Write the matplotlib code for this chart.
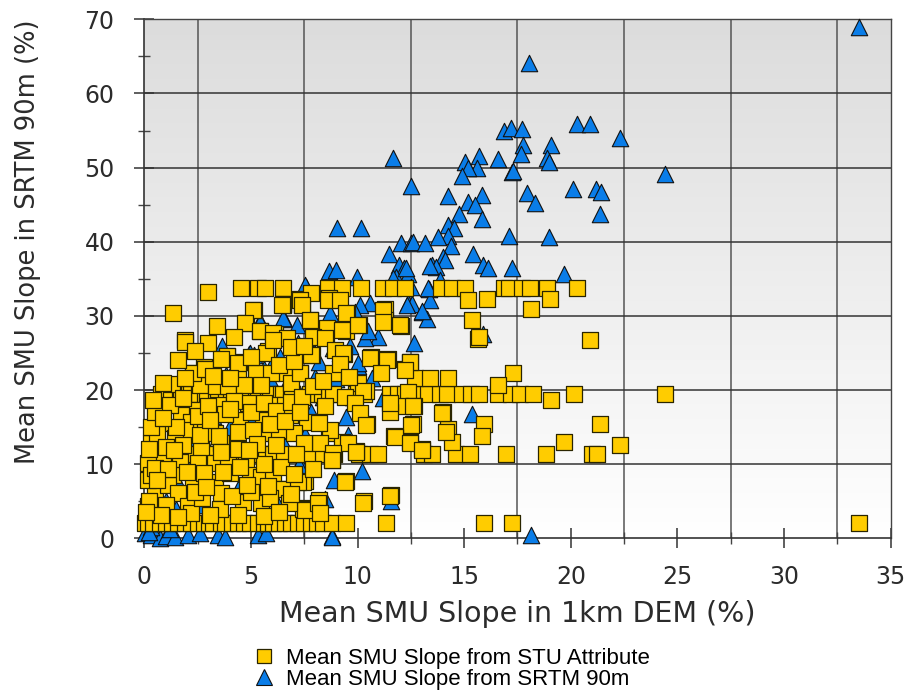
import numpy as np
import matplotlib
matplotlib.use("Agg")
import matplotlib.pyplot as plt
from matplotlib.lines import Line2D
from matplotlib.colors import LinearSegmentedColormap

# Mean SMU slope from SRTM 90m (triangles)
tri_pts = [
    (33.5, 68.9), (18.05, 64.1), (16.86, 55.0), (17.18, 55.3), (17.71, 55.25), (20.29, 55.9), (20.88, 55.9),
    (22.29, 54.05), (17.76, 53.1), (19.09, 53.1), (17.66, 51.9), (18.9, 51.3), (19.0, 50.8), (11.64, 51.3),
    (15.04, 50.7), (15.71, 51.6), (15.6, 50.0), (16.6, 51.2), (15.2, 50.0), (17.23, 49.4), (17.3, 49.5),
    (14.9, 48.9), (24.4, 49.1), (12.49, 47.5), (20.1, 47.1), (21.2, 47.1), (21.4, 46.7), (14.26, 46.2),
    (15.85, 46.3), (15.18, 45.3), (15.5, 44.9), (17.96, 46.6), (18.3, 45.2), (14.77, 43.7), (15.82, 43.0),
    (21.39, 43.7), (9.06, 41.8), (10.14, 41.9), (14.26, 42.2), (14.54, 41.8), (14.24, 40.8), (14.38, 39.4),
    (17.1, 40.8), (19.0, 40.7), (12.03, 39.8), (12.49, 39.8), (12.6, 39.9), (13.18, 39.8), (13.78, 40.6),
    (11.48, 38.4), (14.03, 38.0), (14.1, 37.6), (15.41, 38.3), (15.87, 36.9), (16.1, 36.4), (17.23, 36.4),
    (19.7, 35.7), (11.94, 36.8), (12.2, 36.4), (12.35, 35.6), (11.8, 35.3), (13.48, 36.8), (13.69, 36.6),
    (8.67, 36.1), (8.97, 36.2), (9.96, 35.3), (13.85, 34.8), (13.36, 33.6), (7.59, 33.9), (13.41, 32.2),
    (12.35, 31.7), (12.55, 31.6), (13.04, 30.5), (13.27, 29.6), (10.6, 31.7), (10.1, 31.5), (9.87, 30.5),
    (6.53, 29.6), (7.18, 28.8), (5.45, 29.3), (10.95, 27.2), (10.35, 27.0), (12.63, 26.3), (15.9, 27.6),
    (3.66, 25.9), (4.92, 24.8), (5.15, 24.7), (10.0, 23.3), (15.36, 16.8), (10.21, 9.1), (8.9, 7.8),
    (7.29, 10.1), (11.55, 5.05), (8.46, 5.3), (6.21, 4.8), (18.15, 0.5), (8.79, 0.3),
    (12.27, 36.5), (13.39, 36.7), (11.67, 35.1), (12.53, 33.96), (13.3, 33.7), (12.3, 31.5), (13.0, 30.6),
    (7.53, 34.2), (6.51, 29.7), (6.83, 24.5), (7.22, 26.3), (7.69, 26.8), (8.23, 27.7), (8.7, 30.4),
    (9.48, 29.7), (9.64, 25.9), (10.5, 27.9), (9.17, 25.0), (8.0, 21.8), (10.66, 21.6), (11.2, 18.9),
    (9.48, 16.4), (7.53, 13.9), (9.56, 13.9), (4.95, 25.0), (7.92, 25.0), (8.86, 25.6), (10.03, 23.6),
    (7.26, 9.9), (3.84, 22.0), (6.03, 23.8), (5.0, 16.4), (6.27, 16.0), (4.39, 6.7), (5.42, 29.2), (6.36, 24.5),
    (0.03, 0.7), (0.3, 0.4), (0.74, 0.0), (1.0, 0.3), (1.44, 0.2), (2.06, 0.45), (2.61, 0.7), (3.47, 0.45),
    (3.78, 0.2), (5.34, 0.45), (5.73, 0.7), (8.78, 0.2),
    (0.3, 1.5), (0.5, 3.0), (1.0, 5.0), (1.5, 8.0), (2.0, 10.0), (3.0, 12.0), (4.0, 15.0), (4.5, 13.0),
    (2.5, 18.0), (3.5, 20.0), (5.0, 18.0), (5.5, 20.5), (6.0, 21.0), (4.0, 10.0), (1.5, 4.0), (3.92, 18.2),
    (5.0, 16.8), (2.2, 13.5), (3.2, 16.5), (4.8, 20.2), (5.8, 18.8), (6.5, 19.8), (7.0, 21.0), (4.2, 23.0),
    (5.6, 22.8), (2.8, 21.5), (6.6, 12.5), (7.8, 17.0), (8.4, 19.0), (9.0, 21.5), (8.2, 23.8), (9.8, 19.0),
    (6.4, 14.8), (0.8, 2.0), (1.2, 1.2), (0.2, 0.9), (2.6, 4.5), (3.6, 6.5), (5.2, 8.0), (5.9, 11.0),
]
tri_x = [p[0] for p in tri_pts]
tri_y = [p[1] for p in tri_pts]

# Mean SMU slope from STU attribute (squares) - class rows
row34_x = [4.53, 5.34, 5.64, 6.49, 8.6, 9.29, 10.17, 11.2, 11.66, 12.24, 13.89, 14.42, 15.02,
           16.86, 17.11, 17.71, 18.1, 18.9, 20.29]
row19_x = [0.8, 1.1, 1.27, 1.66, 1.74, 2.12, 2.2, 2.58, 2.83, 2.92, 3.38, 3.45, 3.84, 4.08, 4.42, 4.7,
           4.76, 5.25, 5.34, 5.8, 5.91, 6.42, 6.49, 6.89, 6.95, 7.75, 8.16, 8.33, 8.67, 8.86, 9.94, 10.28,
           11.51, 11.9, 12.24, 12.58, 13.31, 13.86, 14.19, 14.88, 15.3, 15.69, 16.6, 17.18, 17.64, 18.22,
           20.13, 24.4]
row11_x = [0.33, 0.6, 0.85, 1.27, 1.43, 1.74, 1.89, 2.2, 2.35, 2.67, 2.92, 3.14, 3.27, 3.77, 4.23, 4.7,
           4.88, 5.25, 5.52, 5.72, 6.03, 6.53, 7.14, 7.77, 8.39, 8.9, 10.05, 10.58, 10.97, 13.1, 13.5,
           14.6, 15.25, 16.95, 18.85, 20.97, 21.25]
row2_x = [0.02, 0.16, 0.41, 0.74, 1.0, 1.31, 1.6, 1.89, 2.2, 2.52, 2.8, 3.04, 3.22, 3.61, 3.77, 4.1,
          4.39, 4.7, 4.94, 5.34, 5.6, 5.8, 6.03, 6.3, 6.58, 6.9, 7.22, 7.5, 7.84, 8.1, 8.39, 8.78,
          9.48, 11.32, 15.92, 17.23, 33.53]
row34_y, row19_y, row11_y, row2_y = 33.7, 19.45, 11.4, 2.05

# other squares (mixed-class averages)
sq_pts = [
    (2.97, 33.2), (1.36, 30.4), (1.93, 26.7), (5.15, 30.8), (6.49, 31.6), (7.41, 31.5), (7.29, 32.3),
    (7.75, 29.5), (8.67, 32.4), (9.52, 30.4), (11.27, 30.9), (11.27, 29.4), (12.03, 28.7), (15.16, 32.2),
    (16.08, 32.3), (19.02, 32.3), (18.15, 30.9), (15.36, 29.4), (15.64, 26.9), (15.69, 27.1), (20.88, 26.7),
    (4.76, 29.1), (5.45, 28.0), (6.14, 27.6), (8.51, 27.1), (9.48, 28.0), (10.05, 28.8), (3.89, 24.6),
    (4.42, 23.8), (5.8, 25.2), (7.87, 24.7), (9.36, 24.8), (10.63, 24.5), (11.43, 24.2), (12.47, 23.8),
    (12.24, 22.8), (2.28, 22.3), (2.81, 23.1), (5.34, 22.3), (6.6, 22.3), (12.7, 21.6), (13.39, 21.6),
    (14.26, 21.6), (17.3, 22.3), (16.6, 20.7), (19.09, 18.6), (12.35, 19.7), (10.4, 19.9), (12.01, 17.8),
    (12.63, 17.8), (11.5, 17.1), (14.03, 17.1), (10.44, 15.4), (12.58, 15.4), (15.92, 15.4), (14.26, 14.7),
    (15.85, 13.8), (11.73, 13.8), (12.47, 13.0), (13.04, 12.1), (14.42, 13.0), (19.7, 13.0), (21.39, 15.4),
    (22.29, 12.6), (9.48, 7.7), (7.52, 7.7), (10.28, 5.0), (11.55, 5.8), (7.52, 4.1), (8.21, 5.1),
    (8.79, 10.6), (9.94, 11.8), (8.67, 14.2), (9.25, 13.0),
    (2.83, 22.9), (4.39, 23.6), (5.25, 22.3), (5.95, 22.3), (7.28, 22.3), (4.39, 21.6), (2.6, 20.7),
    (3.38, 20.5), (3.92, 20.5), (4.7, 20.7), (5.48, 20.7), (6.89, 20.9), (3.45, 18.0), (2.36, 17.3),
    (4.86, 18.2), (6.03, 18.0), (6.81, 16.6), (1.74, 16.6), (0.8, 15.5), (2.2, 15.7), (2.83, 15.1),
    (3.3, 14.2), (1.89, 14.6), (4.47, 16.0), (4.39, 14.4), (5.56, 16.0), (5.72, 14.2), (6.34, 14.6),
    (0.56, 13.0), (1.42, 13.5), (2.67, 12.1), (3.61, 12.8), (5.1, 14.6), (0.88, 10.6), (1.66, 10.3),
    (2.52, 10.1), (3.3, 10.1), (3.92, 10.3), (4.78, 10.3), (1.35, 8.5), (2.28, 7.6), (3.3, 7.6), (4.0, 8.8),
    (4.94, 8.5), (5.48, 8.3), (6.03, 8.3), (0.49, 6.3), (1.11, 7.2), (1.58, 6.1), (3.61, 6.1), (6.42, 6.7),
    (1.03, 4.5), (2.05, 4.3), (3.53, 4.0), (4.62, 4.9), (5.48, 4.7), (2.2, 3.4), (0.17, 4.3), (0.17, 7.9),
    (0.17, 10.1), (0.33, 12.8), (7.44, 4.0), (7.44, 7.6), (0.2, 5.0), (0.3, 8.5), (0.5, 9.5), (0.6, 14.0),
    (0.3, 15.0), (0.8, 3.2), (0.1, 3.5),
    (7.84, 33.1), (7.3, 32.2), (6.52, 31.5), (7.38, 31.5), (8.62, 32.2), (9.17, 32.2), (9.48, 30.4),
    (11.2, 30.8), (11.2, 29.2), (11.98, 28.8), (7.77, 29.5), (8.55, 28.3), (9.25, 28.1), (10.03, 28.8),
    (7.92, 27.2), (8.47, 27.0), (6.6, 27.0), (8.94, 25.4), (9.33, 25.0), (7.84, 24.7), (10.58, 24.3),
    (11.36, 24.1), (12.45, 23.8), (12.22, 22.7), (8.86, 22.3), (7.3, 22.3), (11.12, 22.3), (10.03, 20.9),
    (10.27, 19.8), (9.41, 19.1), (6.6, 18.0), (8.47, 17.8), (9.88, 18.2), (10.11, 16.9), (6.83, 16.6),
    (7.61, 15.7), (11.51, 18.2), (12.61, 17.8), (13.94, 16.9), (10.42, 15.3), (12.53, 15.3), (14.17, 14.4),
    (8.7, 14.6), (8.23, 12.9), (9.56, 12.8), (11.75, 13.7), (12.45, 12.8), (13.0, 11.9), (8.86, 11.5),
    (9.95, 11.7), (8.78, 10.5), (6.52, 6.7), (7.22, 7.65), (9.41, 7.65), (7.53, 3.8), (8.16, 4.7),
    (10.27, 4.7), (11.51, 5.7), (8.23, 3.4),
    (6.44, 31.5), (5.11, 30.8), (4.72, 29.0), (5.42, 27.9), (6.05, 27.7), (6.67, 27.0), (1.91, 26.5),
    (3.86, 24.6), (4.41, 23.6), (5.73, 25.0), (6.05, 26.8), (2.3, 22.3), (2.84, 22.9),
    # dense cluster near the origin
    (0.5, 17.0), (1.2, 18.0), (1.0, 12.3), (1.5, 15.0), (2.5, 16.5), (3.0, 17.8), (3.8, 16.8), (4.2, 18.5),
    (5.0, 17.0), (5.6, 18.3), (6.2, 17.2), (6.9, 18.4), (7.4, 19.0), (7.0, 14.2), (7.5, 12.8), (6.2, 12.6),
    (5.3, 12.7), (4.4, 12.0), (3.5, 13.8), (2.6, 13.9), (1.8, 12.6), (1.1, 9.3), (2.0, 8.9), (2.8, 8.8),
    (3.7, 9.0), (4.5, 9.6), (5.6, 10.0), (6.4, 9.6), (7.0, 8.7), (7.9, 9.4), (1.6, 2.9), (2.7, 5.5),
    (3.1, 3.2), (4.1, 5.7), (5.0, 6.3), (5.9, 5.5), (6.8, 4.7), (0.6, 7.8), (2.4, 6.2), (4.4, 3.1),
    (5.6, 3.0), (6.3, 3.6), (3.2, 21.9), (4.0, 21.6), (5.0, 24.4), (6.3, 23.4), (7.0, 23.9), (6.9, 25.8),
    (7.5, 26.0), (3.0, 26.3), (4.2, 27.1), (3.4, 28.6), (4.0, 17.4), (1.3, 20.8), (1.9, 21.6), (0.9, 21.0),
    (3.6, 24.2), (7.9, 20.6), (8.4, 21.2), (9.2, 23.5), (9.6, 21.8), (8.2, 15.5), (7.1, 11.4), (0.4, 18.6),
    (1.6, 24.0), (2.4, 25.3), (3.1, 15.9), (5.9, 15.4), (6.6, 15.8), (7.3, 17.1), (2.9, 6.9), (4.8, 7.2),
    (5.8, 7.0), (6.9, 6.0), (1.4, 11.9), (3.6, 11.6), (4.9, 11.9), (0.9, 16.2), (1.8, 18.9), (0.2, 12.0),
]

sq_x = row34_x + row19_x + row11_x + row2_x + [p[0] for p in sq_pts]
sq_y = ([row34_y] * len(row34_x) + [row19_y] * len(row19_x) + [row11_y] * len(row11_x)
        + [row2_y] * len(row2_x) + [p[1] for p in sq_pts])

SQ_COL = "#ffcc00"
TRI_COL = "#0a7de8"
TXT = "#2b2b2b"

fig = plt.figure(figsize=(9.09, 6.95), dpi=100)
ax = fig.add_axes([0.1587, 0.2255, 0.9799 - 0.1587, 0.9722 - 0.2255])

# grey-to-white background gradient
grad = np.linspace(0, 1, 256).reshape(-1, 1)
cmap = LinearSegmentedColormap.from_list("bg", ["#ffffff", "#dcdcdc"])
ax.imshow(grad, cmap=cmap, aspect="auto", extent=[0, 1, 0, 1], origin="lower",
          transform=ax.transAxes, zorder=0)

ax.scatter(tri_x, tri_y, marker="^", s=140, c=TRI_COL, edgecolors="#111111",
           linewidths=0.8, zorder=3, clip_on=False)
ax.scatter(sq_x, sq_y, marker="s", s=135, c=SQ_COL, edgecolors="#2a2500",
           linewidths=0.9, zorder=4, clip_on=False)

ax.set_xlim(0, 35)
ax.set_ylim(0, 70)
ax.set_xticks(np.arange(0, 36, 5))
ax.set_xticks(np.arange(2.5, 35, 5), minor=True)
ax.set_yticks(np.arange(0, 71, 10))
ax.set_yticks(np.arange(5, 70, 10), minor=True)

ax.grid(False)
for v in np.arange(2.5, 35, 5):
    ax.axvline(v, color="#555555", lw=1.1, zorder=1)
for h in np.arange(10, 70, 10):
    ax.axhline(h, color="#333333", lw=1.1, zorder=1)

for s in ["left", "bottom"]:
    ax.spines[s].set_color("#333333")
    ax.spines[s].set_linewidth(1.2)
for s in ["top", "right"]:
    ax.spines[s].set_color("#444444")
    ax.spines[s].set_linewidth(1.0)
for s in ax.spines.values():
    s.set_zorder(2)

ax.tick_params(axis="both", which="major", direction="inout", length=15, width=1.1,
               color="#333333", labelsize=17, labelcolor=TXT)
ax.tick_params(axis="both", which="minor", direction="inout", length=9, width=1.0, color="#444444")
ax.tick_params(axis="x", which="major", pad=12)
ax.tick_params(axis="y", which="major", pad=14)

ax.set_xlabel("Mean SMU Slope in 1km DEM (%)", fontsize=20.5, color=TXT, labelpad=8)
fig.text(28 / 909, 1 - 242 / 695, "Mean SMU Slope in SRTM 90m (%)", rotation=90,
         fontsize=18.5, color=TXT, ha="center", va="center")

handles = [
    Line2D([], [], ls="none", marker="s", ms=10.5, mfc=SQ_COL, mec="#2a2500", mew=0.9),
    Line2D([], [], ls="none", marker="^", ms=11, mfc=TRI_COL, mec="#111111", mew=0.8),
]
fig.legend(handles, ["Mean SMU Slope from STU Attribute", "Mean SMU Slope from SRTM 90m"],
           loc="upper left", bbox_to_anchor=(252 / 909, 1 - 648 / 695), frameon=False,
           prop={"family": "Liberation Sans", "size": 16}, handletextpad=0.45,
           labelspacing=0.0, handlelength=1.1, borderpad=0, borderaxespad=0)

fig.savefig("out.png", dpi=100)
